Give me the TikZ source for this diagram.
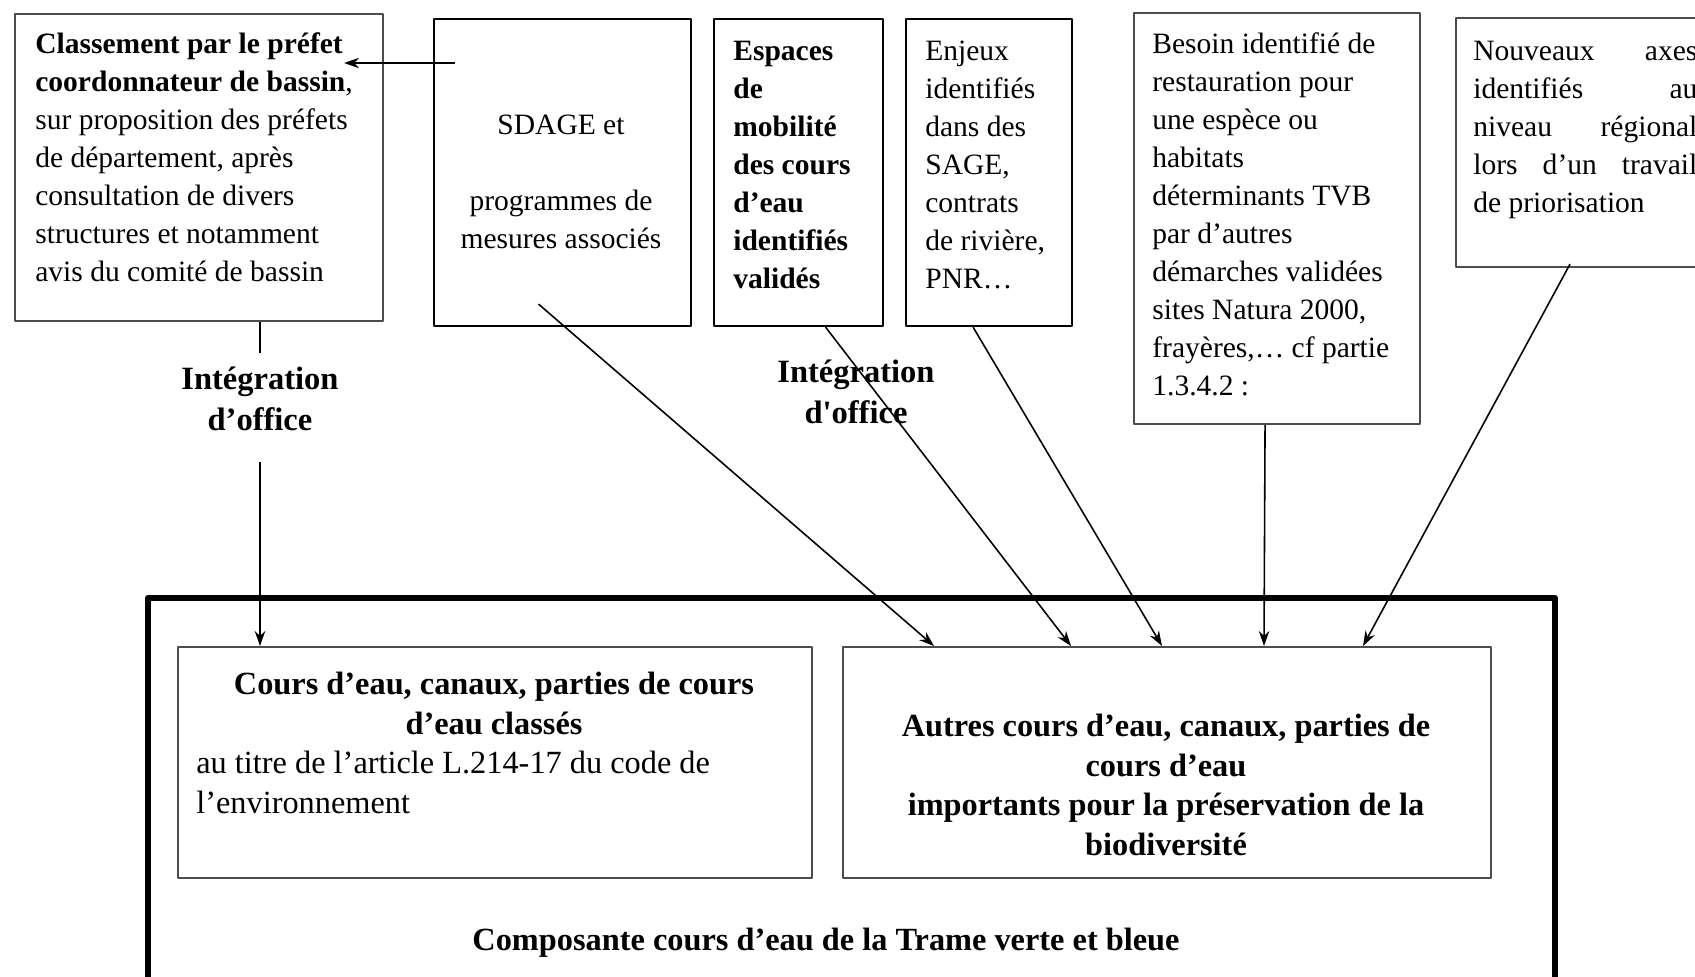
\documentclass[tikz,border=0pt]{standalone}
\usepackage{fontspec}
\setmainfont{Liberation Serif}
\usetikzlibrary{arrows.meta,calc}
\tikzset{
  box/.style={draw=black!70, line width=1.2pt, anchor=north west, inner sep=0pt},
  boxnoir/.style={box, draw=black},
  petit/.style={inner sep=0pt, anchor=base west, align=left, font=\fontsize{16.8}{21.6}\selectfont},
  petitgras/.style={petit, font=\fontsize{16.8}{21.6}\selectfont\bfseries},
  grand/.style={inner sep=0pt, anchor=base, align=center, font=\fontsize{18.4}{22.4}\selectfont\bfseries},
  integ/.style={grand, font=\fontsize{18.5}{22.8}\selectfont\bfseries},
  fleche/.style={->, line width=0.9pt},
}
\begin{document}
\begin{tikzpicture}[x=0.2mm, y=-0.2mm, >={Stealth[length=3mm,width=2.1mm]}, line join=round]
  \def\unitpx{0.2mm} % 1 px
  \useasboundingbox (0,0) rectangle (1695,977);
  \clip (0,0) rectangle (1695,977);
  % boites du haut (textes places par la ligne de base de leur derniere ligne)
  \node[box, minimum width=368*\unitpx, minimum height=307*\unitpx] (classement) at (14,13) {};
  \node[boxnoir, minimum width=257*\unitpx, minimum height=307*\unitpx] (sdage) at (433,18) {};
  \node[boxnoir, minimum width=169*\unitpx, minimum height=307*\unitpx] (espaces) at (713,18) {};
  \node[boxnoir, minimum width=166*\unitpx, minimum height=307*\unitpx] (enjeux) at (905,18) {};
  \node[box, minimum width=286*\unitpx, minimum height=411*\unitpx] (besoin) at (1133,12) {};
  \node[box, minimum width=300*\unitpx, minimum height=249*\unitpx] (nouveaux) at (1455,17) {};
  \node[petit] (classementtxt) at (35,281) {\textbf{Classement par le préfet}\\\textbf{coordonnateur de bassin},\\sur proposition des préfets\\de département, après\\consultation de divers\\structures et notamment\\avis du comité de bassin};
  \node[petit, anchor=base, align=center] (sdagetxt) at (561,248) {SDAGE et\\[21.6pt]programmes de\\mesures associés};
  \node[petitgras] (espacestxt) at (733,288) {Espaces\\de\\mobilité\\des cours\\d’eau\\identifiés\\validés};
  \node[petit] (enjeuxtxt) at (925,288) {Enjeux\\identifiés\\dans des\\SAGE,\\contrats\\de rivière,\\PNR…};
  \node[petit] (besointxt) at (1152,395) {Besoin identifié de\\restauration pour\\une espèce ou\\habitats\\déterminants TVB\\par d’autres\\démarches validées\\sites Natura 2000,\\frayères,… cf partie\\1.3.4.2 :};
  \node[petit] (nouveauxtxt) at (1473,212) {\makebox[44.8mm][s]{Nouveaux axes}\\\makebox[44.8mm][s]{identifiés au}\\\makebox[44.8mm][s]{niveau régional}\\\makebox[44.8mm][s]{lors d’un travail}\\de priorisation};
  % trame verte et bleue
  \node[draw, line width=3.4pt, anchor=north west, inner sep=0pt, minimum width=1407*\unitpx, minimum height=450*\unitpx] (trame) at (145,595) {};
  \node[box, minimum width=634*\unitpx, minimum height=231*\unitpx] (cours) at (177,646) {};
  \node[box, minimum width=648*\unitpx, minimum height=231*\unitpx] (autres) at (842,646) {};
  \node[grand] (courstitre) at (494,734) {Cours d’eau, canaux, parties de cours\\d’eau classés};
  \node[grand, anchor=base west, align=left, font=\fontsize{18.4}{22.4}\selectfont] (courstxt) at (196,813) {au titre de l’article L.214-17 du code de\\l’environnement};
  \node[grand] (autrestxt) at (1166,855) {Autres cours d’eau, canaux, parties de\\cours d’eau\\importants pour la préservation de la\\biodiversité};
  \node[grand] (composante) at (826,950) {Composante cours d’eau de la Trame verte et bleue};
  \node[integ] (integ1) at (260,430) {Intégration\\d’office};
  \node[integ] (integ2) at (856,423) {Intégration\\d\textquotesingle office};
  % fleches
  \draw[fleche] ($(sdage.north west)+(22,45)$) -- ($(classement.north east)+(-40,50)$);
  \draw[line width=0.9pt] (classement.south -| integ1.base) -- ($(integ1.base)+(0,-77)$);
  \draw[fleche] ($(integ1.base)+(0,32)$) -- (integ1.base |- cours.north);
  \draw[fleche] ($(sdage.south)+(-24,-23)$) -- ($(autres.north west)+(92,0)$);
  \draw[fleche] ($(espaces.south)+(27,0)$) -- ($(autres.north west)+(229,0)$);
  \draw[fleche] ($(enjeux.south)+(-16,0)$) -- ($(autres.north west)+(320,0)$);
  \draw[fleche] ($(besoin.south)+(-12,0)$) -- ($(autres.north west)+(422,0)$);
  \draw[fleche] ($(nouveaux.south west)+(115,-4)$) -- ($(autres.north west)+(521,0)$);
\end{tikzpicture}
\end{document}
